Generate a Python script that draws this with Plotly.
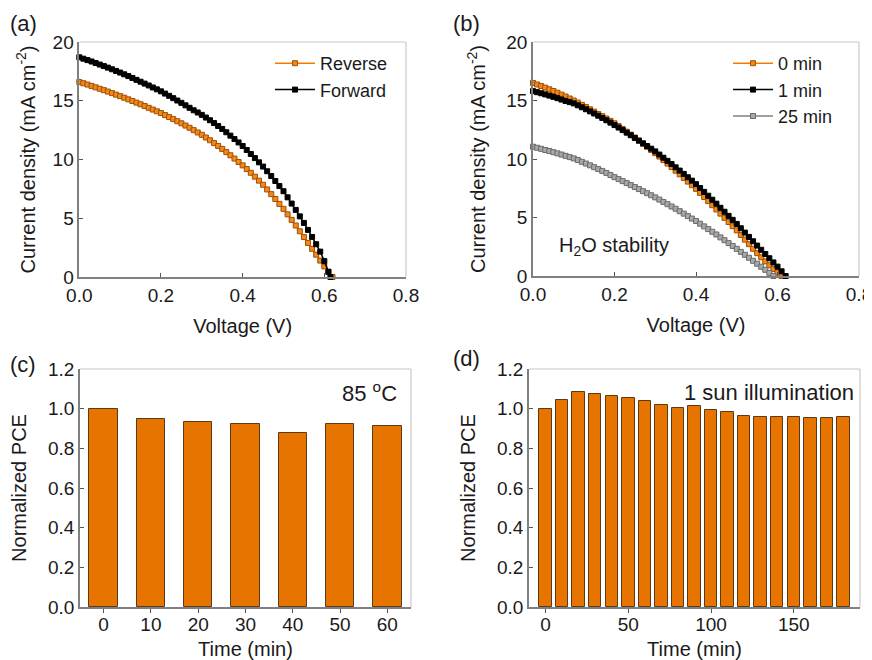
import plotly.graph_objects as go

# ---------------- data ----------------
# (a) J-V hysteresis
v_rev = [round(i * 0.01, 2) for i in range(63)]
j_rev = [16.60, 16.49, 16.38, 16.26, 16.14, 16.02, 15.90, 15.78, 15.65, 15.52,
         15.39, 15.26, 15.12, 14.98, 14.84, 14.70, 14.55, 14.40, 14.25, 14.10,
         13.95, 13.78, 13.61, 13.44, 13.26, 13.08, 12.89, 12.70, 12.50, 12.30,
         12.10, 11.87, 11.64, 11.40, 11.15, 10.90, 10.63, 10.36, 10.08, 9.79,
         9.50, 9.19, 8.87, 8.54, 8.20, 7.85, 7.45, 7.05, 6.64, 6.22,
         5.80, 5.33, 4.86, 4.38, 3.89, 3.40, 2.90, 2.40, 1.90, 1.40,
         0.90, 0.42, 0.00]
v_fwd = [round(i * 0.01, 2) for i in range(62)] + [0.615]
j_fwd = [18.70, 18.58, 18.46, 18.34, 18.21, 18.08, 17.95, 17.82, 17.68, 17.54,
         17.40, 17.25, 17.10, 16.94, 16.78, 16.62, 16.46, 16.30, 16.13, 15.97,
         15.80, 15.61, 15.42, 15.22, 15.02, 14.82, 14.61, 14.40, 14.19, 14.00,
         13.80, 13.57, 13.34, 13.10, 12.85, 12.60, 12.32, 12.03, 11.74, 11.45,
         11.15, 10.81, 10.47, 10.12, 9.76, 9.40, 9.00, 8.59, 8.17, 7.74,
         7.30, 6.78, 6.25, 5.71, 5.16, 4.60, 4.01, 3.41, 2.79, 2.16,
         1.35, 0.45, 0.00]

# (b) H2O stability
v_0 = [round(i * 0.01, 2) for i in range(62)]
j_0 = [16.50, 16.37, 16.24, 16.10, 15.96, 15.81, 15.66, 15.50, 15.34, 15.17,
       15.00, 14.82, 14.63, 14.44, 14.25, 14.05, 13.85, 13.66, 13.46, 13.26,
       13.05, 12.81, 12.57, 12.33, 12.08, 11.83, 11.57, 11.30, 11.04, 10.77,
       10.50, 10.21, 9.91, 9.61, 9.31, 9.00, 8.69, 8.38, 8.07, 7.76,
       7.45, 7.10, 6.75, 6.40, 6.05, 5.69, 5.33, 4.97, 4.61, 4.26,
       3.90, 3.50, 3.11, 2.72, 2.33, 1.95, 1.60, 1.25, 0.92, 0.60,
       0.30, 0.00]
v_1 = [round(i * 0.01, 2) for i in range(63)]
j_1 = [15.80, 15.71, 15.62, 15.52, 15.42, 15.31, 15.20, 15.08, 14.96, 14.86,
       14.75, 14.59, 14.42, 14.25, 14.07, 13.89, 13.70, 13.51, 13.31, 13.11,
       12.90, 12.69, 12.47, 12.25, 12.03, 11.80, 11.57, 11.34, 11.11, 10.88,
       10.65, 10.38, 10.11, 9.84, 9.57, 9.29, 9.01, 8.73, 8.44, 8.15,
       7.85, 7.52, 7.19, 6.86, 6.52, 6.18, 5.83, 5.49, 5.14, 4.80,
       4.45, 4.08, 3.71, 3.34, 2.97, 2.60, 2.24, 1.88, 1.52, 1.16,
       0.80, 0.40, 0.00]
v_25 = [round(i * 0.01, 2) for i in range(60)]
j_25 = [11.05, 10.96, 10.87, 10.77, 10.68, 10.58, 10.48, 10.38, 10.27, 10.16,
        10.05, 9.91, 9.76, 9.61, 9.46, 9.30, 9.14, 8.98, 8.81, 8.63,
        8.45, 8.28, 8.11, 7.94, 7.77, 7.60, 7.43, 7.25, 7.08, 6.90,
        6.72, 6.53, 6.33, 6.14, 5.94, 5.75, 5.54, 5.33, 5.12, 4.91,
        4.70, 4.47, 4.24, 4.01, 3.78, 3.55, 3.30, 3.06, 2.81, 2.57,
        2.32, 2.06, 1.81, 1.56, 1.30, 1.05, 0.79, 0.53, 0.27, 0.00]

# (c) 85 C thermal stability
t_c = [0, 10, 20, 30, 40, 50, 60]
pce_c = [1.00, 0.948, 0.935, 0.924, 0.877, 0.922, 0.915]

# (d) 1 sun illumination
t_d = [0, 10, 20, 30, 40, 50, 60, 70, 80, 90, 100, 110, 120, 130, 140, 150, 160, 170, 180]
pce_d = [1.00, 1.042, 1.083, 1.074, 1.064, 1.052, 1.038, 1.018, 1.004, 1.011,
         0.991, 0.982, 0.962, 0.957, 0.957, 0.957, 0.951, 0.951, 0.957]
d_ticks = [0, 50, 100, 150]

# ---------------- styling ----------------
FONT = "Liberation Sans, Arial, sans-serif"
TXT = "#1a1a1a"
ORANGE_LINE = "#F47A00"
ORANGE_FILL = "#F08A1C"
ORANGE_EDGE = "#A24E00"
BAR = "#E87400"

fig = go.Figure()

def jv(x, y, name, xa, ya, leg, line_col, fill, edge):
    fig.add_trace(go.Scatter(
        x=x, y=y, name=name, xaxis=xa, yaxis=ya, legend=leg,
        mode="lines+markers", cliponaxis=False,
        line=dict(color=line_col, width=1.5),
        marker=dict(symbol="square", size=5, color=fill,
                    line=dict(color=edge, width=1))))

jv(v_rev, j_rev, "Reverse", "x", "y", "legend", ORANGE_LINE, ORANGE_FILL, ORANGE_EDGE)
jv(v_fwd, j_fwd, "Forward", "x", "y", "legend", "#000000", "#000000", "#000000")

jv(v_0, j_0, "0 min", "x2", "y2", "legend2", ORANGE_LINE, ORANGE_FILL, ORANGE_EDGE)
jv(v_1, j_1, "1 min", "x2", "y2", "legend2", "#000000", "#000000", "#000000")
jv(v_25, j_25, "25 min", "x2", "y2", "legend2", "#808080", "#a8a8a8", "#6a6a6a")

fig.add_trace(go.Bar(x=t_c, y=pce_c, xaxis="x3", yaxis="y3", width=6,
                     marker=dict(color=BAR, line=dict(color="#5a3a1a", width=1)),
                     showlegend=False))
fig.add_trace(go.Bar(x=t_d, y=pce_d, xaxis="x4", yaxis="y4", width=7.5,
                     marker=dict(color=BAR, line=dict(color="#5a3a1a", width=1)),
                     showlegend=False))

# the page body has an 8 px margin: size the figure to fill the window exactly
OFF = 8
W, H = 872 - OFF, 660 - OFF
def px(x):
    return (x - OFF) / W
def py(y):
    return 1 - (y - OFF) / H
def dx(a, b):
    return [px(a), px(b)]
def dy(top, bottom):
    return [py(bottom), py(top)]

AXLINE = "#808080"
tickfont = dict(family=FONT, size=19, color=TXT)
titlefont = dict(family=FONT, size=20, color=TXT)

def xaxis(dom, rng, anchor, title, ticks, standoff=14, **kw):
    d = dict(domain=dom, range=rng, anchor=anchor, showline=True, linecolor=AXLINE,
             linewidth=1.5, showgrid=False, zeroline=False, ticks=ticks, ticklen=4,
             tickcolor="#555", tickfont=tickfont, automargin=False,
             ticklabeloverflow="allow",
             title=dict(text=title, font=titlefont, standoff=standoff))
    d.update(kw)
    return d

def yaxis(dom, rng, anchor, title, standoff=12, **kw):
    d = dict(domain=dom, range=rng, anchor=anchor, showline=True, linecolor=AXLINE,
             linewidth=1.5, showgrid=False, zeroline=False, ticks="inside", ticklen=4,
             tickcolor="#555", tickfont=tickfont, automargin=False,
             ticklabeloverflow="allow",
             title=dict(text=title, font=titlefont, standoff=standoff))
    d.update(kw)
    return d

fig.update_layout(
    width=W, height=H, margin=dict(l=0, r=0, t=0, b=0, autoexpand=False),
    paper_bgcolor="white", plot_bgcolor="white",
    font=dict(family=FONT, size=18, color=TXT),
    bargap=0,
    xaxis=xaxis(dx(79.3, 406), [0, 0.8], "y", "Voltage (V)", "inside",
                dtick=0.2, tick0=0, tickformat=".1f"),
    yaxis=yaxis(dy(42, 277), [0, 20], "x", "Current density (mA cm<sup>-2</sup>)",
                dtick=5, tick0=0),
    xaxis2=xaxis(dx(533, 859), [0, 0.8], "y2", "Voltage (V)", "inside",
                 dtick=0.2, tick0=0, tickformat=".1f"),
    yaxis2=yaxis(dy(42, 276), [0, 20], "x2", "Current density (mA cm<sup>-2</sup>)",
                 standoff=15, dtick=5, tick0=0),
    xaxis3=xaxis(dx(80, 411), [-5, 65], "y3", "Time (min)", "outside",
                 standoff=12, ticklabelstandoff=-5, tickvals=t_c),
    yaxis3=yaxis(dy(369, 607), [0, 1.2], "x3", "Normalized PCE", standoff=16,
                 dtick=0.2, tick0=0, tickformat=".1f"),
    xaxis4=xaxis(dx(529, 860), [-10, 190], "y4", "Time (min)", "outside",
                 standoff=12, ticklabelstandoff=-5, tickvals=d_ticks),
    yaxis4=yaxis(dy(369, 607), [0, 1.2], "x4", "Normalized PCE", standoff=16,
                 dtick=0.2, tick0=0, tickformat=".1f"),
    legend=dict(x=px(270), y=py(45), xanchor="left", yanchor="top",
                bgcolor="rgba(0,0,0,0)", font=dict(family=FONT, size=18, color=TXT),
                itemwidth=40, tracegroupgap=0),
    legend2=dict(x=px(728), y=py(45), xanchor="left", yanchor="top",
                 bgcolor="rgba(0,0,0,0)", font=dict(family=FONT, size=18, color=TXT),
                 itemwidth=40, tracegroupgap=0),
)

# light top/right frame edges
shapes = []
for xa, ya in [("x", "y"), ("x2", "y2"), ("x3", "y3"), ("x4", "y4")]:
    shapes.append(dict(type="line", xref=f"{xa} domain", yref=f"{ya} domain",
                       x0=0, x1=1, y0=1, y1=1, line=dict(color="#c8c8c8", width=1.2)))
    shapes.append(dict(type="line", xref=f"{xa} domain", yref=f"{ya} domain",
                       x0=1, x1=1, y0=0, y1=1, line=dict(color="#c8c8c8", width=1.2)))
fig.update_layout(shapes=shapes)

ann = []
for lbl, lx, ly in [("(a)", 23, 24), ("(b)", 466, 24), ("(c)", 23, 364), ("(d)", 466, 358)]:
    ann.append(dict(text=lbl, x=px(lx), y=py(ly), xref="paper", yref="paper",
                    showarrow=False, xanchor="center", yanchor="middle",
                    font=dict(family=FONT, size=22, color=TXT)))
ann.append(dict(text="H<sub>2</sub>O stability", x=px(557), y=py(246),
                xref="paper", yref="paper", showarrow=False, xanchor="left",
                yanchor="middle", font=dict(family=FONT, size=20, color=TXT)))
ann.append(dict(text="85 <sup>o</sup>C", x=px(399), y=py(392),
                xref="paper", yref="paper", showarrow=False, xanchor="right",
                yanchor="middle", font=dict(family=FONT, size=22, color=TXT)))
ann.append(dict(text="1 sun illumination", x=px(856), y=py(392),
                xref="paper", yref="paper", showarrow=False, xanchor="right",
                yanchor="middle", font=dict(family=FONT, size=22, color=TXT)))
fig.update_layout(annotations=ann)

fig.write_html("out.html")
